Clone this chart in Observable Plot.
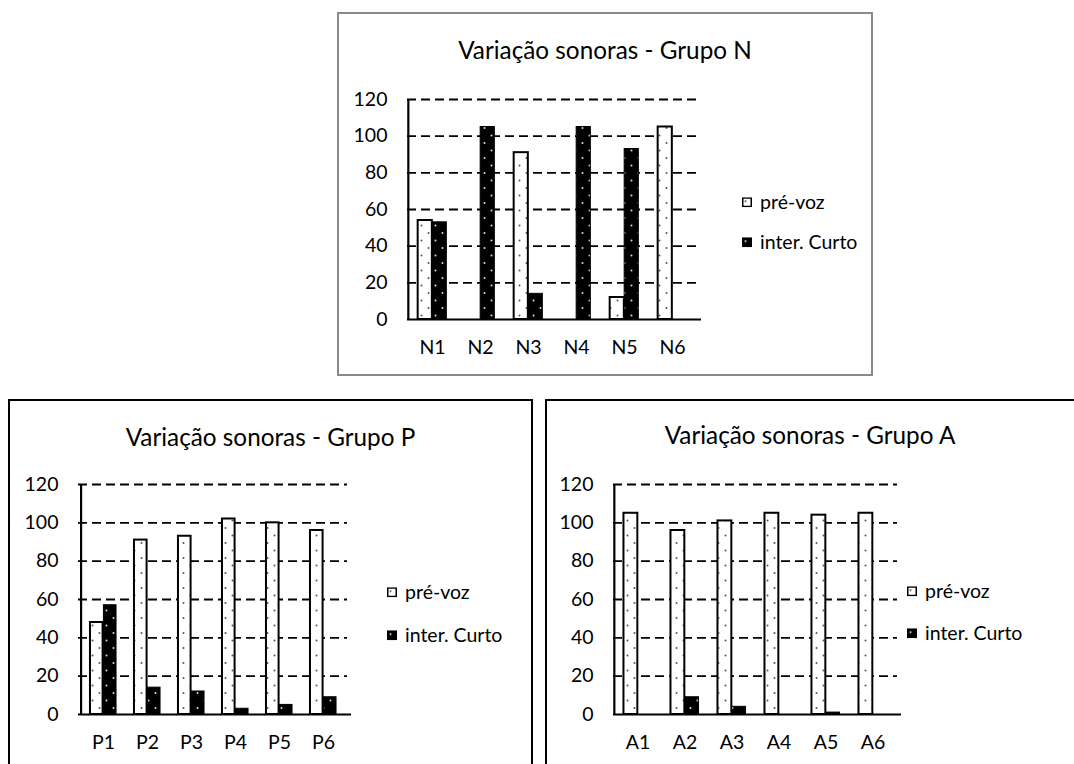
<!DOCTYPE html>
<html><head><meta charset="utf-8">
<script src="https://cdn.jsdelivr.net/npm/d3@7"></script>
<script src="https://cdn.jsdelivr.net/npm/@observablehq/plot@0.6"></script>
<style>
html,body{margin:0;padding:0;background:#fff;}
body{overflow:hidden;width:1074px;height:764px;position:relative;font-family:Lato,"Noto Sans",sans-serif;color:#000;}
.panel{position:absolute;box-sizing:border-box;background:#fff;}
.title{position:absolute;transform:translate(-50%,-50%);white-space:nowrap;font-size:24.3px;color:#000;line-height:1;}
.leg{position:absolute;display:flex;align-items:center;font-size:19.5px;white-space:nowrap;transform:translateY(-50%);line-height:1;}
.leg svg{margin-right:8px;}
.chart{position:absolute;}
</style></head><body>
<svg width="0" height="0" style="position:absolute">
  <defs>
    <pattern id="dotW" patternUnits="userSpaceOnUse" width="14" height="15">
      <rect width="14" height="15" fill="#fff"/>
      <circle cx="3.5" cy="4" r="1" fill="#555"/>
      <circle cx="10.5" cy="11.5" r="1" fill="#555"/>
    </pattern>
    <pattern id="dotB" patternUnits="userSpaceOnUse" width="14" height="15">
      <rect width="14" height="15" fill="#000"/>
      <circle cx="3.5" cy="4" r="1" fill="#ddd"/>
      <circle cx="10.5" cy="11.5" r="1" fill="#ddd"/>
    </pattern>
  </defs>
</svg>
<script>
// ---- data ----
const seriesNames = ["pré-voz", "inter. Curto"];
const yTicks = [0, 20, 40, 60, 80, 100, 120];

const titleN = "Variação sonoras - Grupo N";
const catsN = ["N1", "N2", "N3", "N4", "N5", "N6"];
const preN = [54, 0, 91, 0, 12, 105];
const curN = [53, 105, 14, 105, 93, 0];

const titleP = "Variação sonoras - Grupo P";
const catsP = ["P1", "P2", "P3", "P4", "P5", "P6"];
const preP = [48, 91, 93, 102, 100, 96];
const curP = [57, 14, 12, 3, 5, 9];

const titleA = "Variação sonoras - Grupo A";
const catsA = ["A1", "A2", "A3", "A4", "A5", "A6"];
const preA = [105, 96, 101, 105, 104, 105];
const curA = [0, 9, 4, 0, 1, 0];

// ---- layout (page coordinates) ----
const panels = [
  {title: titleN, cats: catsN, pre: preN, cur: curN,
   box: {left: 337, top: 12, width: 536, height: 364, color: "#8a8a8a"},
   plot: {left: 407, right: 697, top: 99, bottom: 319},
   tcx: 605, tcy: 50, legX: 742, legY: [202, 242]},
  {title: titleP, cats: catsP, pre: preP, cur: curP,
   box: {left: 8, top: 399, width: 525, height: 380, color: "#000"},
   plot: {left: 78, right: 347, top: 484, bottom: 714},
   tcx: 270.5, tcy: 437, legX: 387, legY: [592, 635]},
  {title: titleA, cats: catsA, pre: preA, cur: curA,
   box: {left: 545, top: 399, width: 535, height: 380, color: "#000"},
   plot: {left: 613, right: 897, top: 484, bottom: 714},
   tcx: 810, tcy: 435, legX: 907, legY: [591, 633]}
];

function el(tag, cls, parent) { const e = document.createElement(tag); if (cls) e.className = cls; parent.appendChild(e); return e; }

for (const cfg of panels) {
  const b = el("div", "panel", document.body);
  Object.assign(b.style, {left: cfg.box.left + "px", top: cfg.box.top + "px", width: cfg.box.width + "px", height: cfg.box.height + "px", border: `2px solid ${cfg.box.color}`});

  const t = el("div", "title", document.body);
  t.textContent = cfg.title;
  Object.assign(t.style, {left: cfg.tcx + "px", top: cfg.tcy + "px"});

  const data = cfg.cats.map((c, i) => ({cat: c, pre: cfg.pre[i], cur: cfg.cur[i]}));
  const ml = 80, mr = 20, mt = 20, mb = 50;
  const pw = cfg.plot.right - cfg.plot.left;
  const ph = cfg.plot.bottom - cfg.plot.top;
  const bw = pw / cfg.cats.length;

  const chart = Plot.plot({
    width: pw + ml + mr, height: ph + mt + mb,
    marginLeft: ml, marginRight: mr, marginTop: mt, marginBottom: mb,
    style: {fontFamily: "Lato, 'Noto Sans', sans-serif", fontSize: "19.5px", color: "#000", background: "transparent", overflow: "visible"},
    x: {domain: cfg.cats, padding: 0, tickSize: 0, tickPadding: 21, label: null},
    y: {domain: [0, 120], ticks: yTicks, tickSize: 0, tickPadding: 20, label: null},
    marks: [
      Plot.ruleY(yTicks.filter(d => d > 0), {stroke: "#000", strokeWidth: 1.8, strokeDasharray: "9,5"}),
      Plot.barY(data.filter(d => d.pre > 0), {x: "cat", y: "pre", fill: "url(#dotW)", stroke: "#000", strokeWidth: 2, insetLeft: bw * 0.2, insetRight: bw * 0.5}),
      Plot.barY(data.filter(d => d.cur > 0), {x: "cat", y: "cur", fill: "url(#dotB)", stroke: "#000", strokeWidth: 1, insetLeft: bw * 0.5, insetRight: bw * 0.2}),
      Plot.ruleY([0], {stroke: "#000", strokeWidth: 2.2, insetRight: -4}),
      Plot.ruleX([cfg.cats[0]], {y1: 0, y2: 120, dx: -bw / 2, stroke: "#000", strokeWidth: 2.2})
    ]
  });
  chart.classList.add("chart");
  chart.style.left = (cfg.plot.left - ml) + "px";
  chart.style.top = (cfg.plot.top - mt) + "px";
  document.body.appendChild(chart);

  seriesNames.forEach((name, i) => {
    const lg = el("div", "leg", document.body);
    Object.assign(lg.style, {left: cfg.legX + "px", top: cfg.legY[i] + "px"});
    lg.innerHTML = `<svg width="10" height="10"><rect x="0.75" y="0.75" width="8.5" height="8.5" fill="${i === 0 ? "url(#dotW)" : "url(#dotB)"}" stroke="#000" stroke-width="1.5"/></svg>`;
    const s = el("span", null, lg);
    s.textContent = name;
  });
}
</script>
</body></html>
